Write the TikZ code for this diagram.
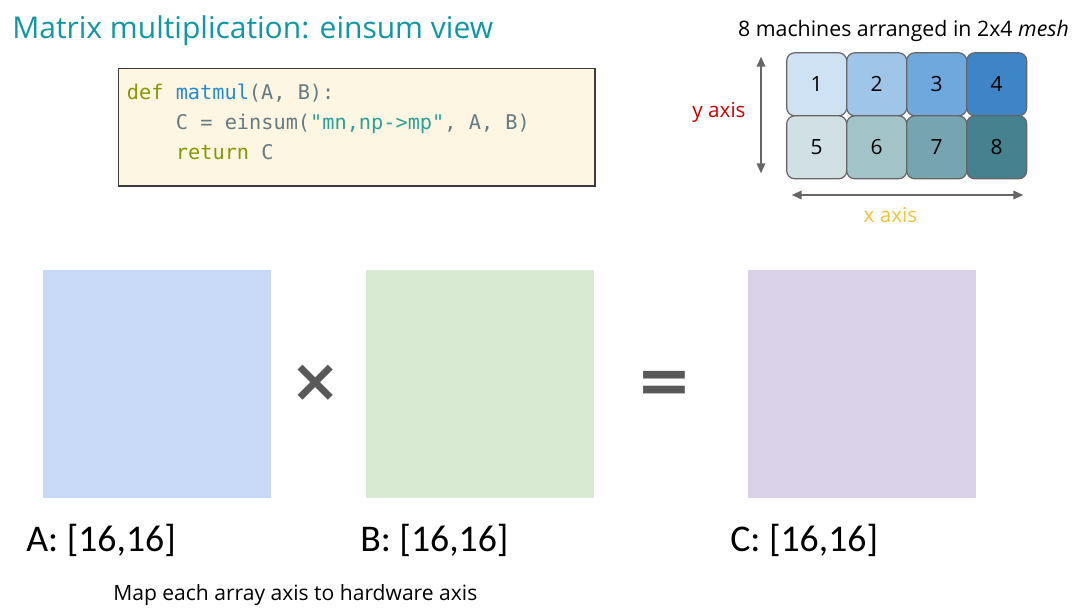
\documentclass[tikz,border=0pt]{standalone}
\usepackage{fontspec}
\setmainfont{Open Sans}
\setmonofont{DejaVu Sans Mono}
\newfontfamily\symfont{DejaVu Sans}
\newfontfamily\lblfont{Carlito}
\usetikzlibrary{arrows.meta}
\definecolor{titleteal}{RGB}{16,152,162}
\definecolor{codebg}{RGB}{253,246,227}
\definecolor{codeborder}{RGB}{60,60,60}
\definecolor{kw}{RGB}{133,153,0}
\definecolor{fn}{RGB}{38,139,210}
\definecolor{codegray}{RGB}{101,123,131}
\definecolor{strc}{RGB}{42,161,152}
\definecolor{meshborder}{RGB}{102,102,102}
\definecolor{m1}{HTML}{CFE2F3}
\definecolor{m2}{HTML}{9FC5E8}
\definecolor{m3}{HTML}{6FA8DC}
\definecolor{m4}{HTML}{3D85C6}
\definecolor{m5}{HTML}{D0E0E3}
\definecolor{m6}{HTML}{A2C4C9}
\definecolor{m7}{HTML}{76A5AF}
\definecolor{m8}{HTML}{45818E}
\definecolor{arrowgray}{RGB}{102,102,102}
\definecolor{yred}{RGB}{204,0,0}
\definecolor{xyellow}{RGB}{241,194,50}
\definecolor{matA}{HTML}{C9DAF8}
\definecolor{matB}{HTML}{D9EAD3}
\definecolor{matC}{HTML}{D9D2E9}
\definecolor{opgray}{RGB}{89,89,89}
\begin{document}
\begin{tikzpicture}[x=0.75pt,y=-0.75pt,
  code/.style={anchor=base west, inner sep=0, text=codegray, font=\ttfamily\fontsize{15.2}{18}\selectfont},
  mbox/.style={draw=meshborder, line width=0.9pt, rounded corners=6pt, minimum width=45pt, minimum height=47.25pt, inner sep=0, font=\fontsize{15.7}{18}\selectfont},
  mat/.style={minimum width=171pt, minimum height=171pt, inner sep=0},
  axisarrow/.style={draw=arrowgray, line width=1.1pt, {Triangle[length=7.5pt,width=6.5pt]}-{Triangle[length=7.5pt,width=6.5pt]}},
  lbl/.style={anchor=base west, inner sep=0, font=\lblfont\fontsize{28.3}{33}\selectfont},
  opsym/.style={anchor=base, inner sep=0, text=opgray}
]
\useasboundingbox (0,0) rectangle (1080,616);

% title
\node[anchor=base west, inner sep=0, text=titleteal, font=\fontsize{22.5}{26}\selectfont] (title) at (12,38.5) {Matrix multiplication: einsum view};

% code box
\node[draw=codeborder, fill=codebg, line width=1.1pt, minimum width=357.5pt, minimum height=88.3pt, inner sep=0] (codebox) at (356.7,127.2) {};
\node[code] (l1) at (126.7,100) {\textcolor{kw}{def} \textcolor{fn}{matmul}(A, B):};
\node[code] (l2) at (175.7,130) {C = einsum(\textcolor{strc}{"mn,np->mp"}, A, B)};
\node[code] (l3) at (175.7,160) {\textcolor{kw}{return} C};

% mesh
\node[anchor=base, inner sep=0, font=\fontsize{16}{19}\selectfont] (meshtitle) at (903.5,36.7) {8 machines arranged in 2x4 \textit{mesh}};
\node[mbox, fill=m1] (n1) at (816.7,84.3) {1};
\node[mbox, fill=m2] (n2) at (876.7,84.3) {2};
\node[mbox, fill=m3] (n3) at (936.7,84.3) {3};
\node[mbox, fill=m4] (n4) at (996.7,84.3) {4};
\node[mbox, fill=m5] (n5) at (816.7,147.3) {5};
\node[mbox, fill=m6] (n6) at (876.7,147.3) {6};
\node[mbox, fill=m7] (n7) at (936.7,147.3) {7};
\node[mbox, fill=m8] (n8) at (996.7,147.3) {8};

\coordinate (ytop) at (761,56.7);
\coordinate (ybot) at (761,173.3);
\coordinate (xleft) at (791.7,195);
\coordinate (xright) at (1023.3,195);
\draw[axisarrow] (ytop) -- (ybot);
\draw[axisarrow] (xleft) -- (xright);
\node[anchor=base, inner sep=0, text=yred, font=\fontsize{15.5}{18}\selectfont] (ylab) at (719,118) {y axis};
\node[anchor=base, inner sep=0, text=xyellow, font=\fontsize{15.5}{18}\selectfont] (xlab) at (890.5,222.7) {x axis};

% matrices
\node[mat, fill=matA] (A) at (157,384) {};
\node[mat, fill=matB] (B) at (480,384) {};
\node[mat, fill=matC] (C) at (862,384) {};
\node[opsym, font=\symfont\bfseries\fontsize{45}{50}\selectfont] (times) at (316,401) {×};
\node[opsym, font=\symfont\bfseries\fontsize{50}{55}\selectfont] (equals) at (664.5,403) {=};

\node[lbl] (Alab) at (26,551.7) {A: [16,16]};
\node[lbl] (Blab) at (360,551.7) {B: [16,16]};
\node[lbl] (Clab) at (730,551.7) {C: [16,16]};

\node[anchor=base west, inner sep=0, font=\fontsize{15.8}{19}\selectfont] (note) at (113,600.7) {Map each array axis to hardware axis};
\end{tikzpicture}
\end{document}
